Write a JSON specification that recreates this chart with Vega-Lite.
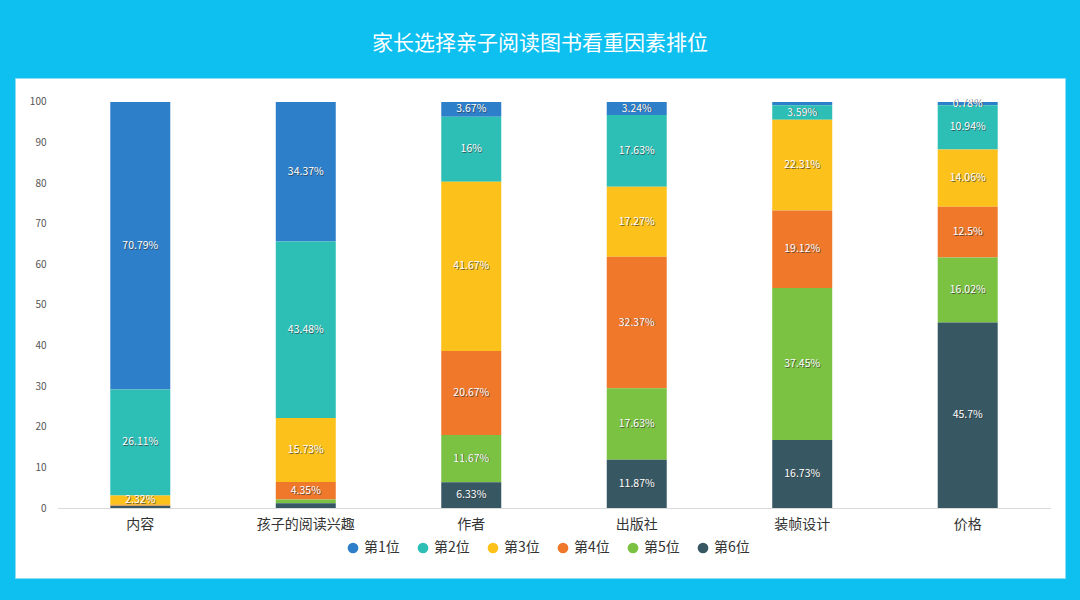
{
  "$schema": "https://vega.github.io/schema/vega-lite/v6.json",
  "width": 1050,
  "height": 500,
  "autosize": {"type": "none"},
  "padding": {"left": 15, "top": 78, "right": 15, "bottom": 22},
  "background": "#0EC0F0",
  "title": {
    "text": "家长选择亲子阅读图书看重因素排位",
    "color": "#ffffff",
    "fontSize": 21,
    "fontWeight": "normal",
    "font": "Noto Sans CJK SC",
    "anchor": "middle",
    "offset": 24
  },
  "config": {
    "view": {"fill": "#ffffff", "stroke": "#8fdcf5", "strokeWidth": 1},
    "font": "Noto Sans CJK SC"
  },
  "data": {
    "values": [
      {"factor": "内容", "rank": 1, "series": "第1位", "value": 70.79, "label": "70.79%"},
      {"factor": "内容", "rank": 2, "series": "第2位", "value": 26.11, "label": "26.11%"},
      {"factor": "内容", "rank": 3, "series": "第3位", "value": 2.32, "label": "2.32%"},
      {"factor": "内容", "rank": 4, "series": "第4位", "value": 0.2, "label": ""},
      {"factor": "内容", "rank": 5, "series": "第5位", "value": 0.1, "label": ""},
      {"factor": "内容", "rank": 6, "series": "第6位", "value": 0.48, "label": ""},
      {"factor": "孩子的阅读兴趣", "rank": 1, "series": "第1位", "value": 34.37, "label": "34.37%"},
      {"factor": "孩子的阅读兴趣", "rank": 2, "series": "第2位", "value": 43.48, "label": "43.48%"},
      {"factor": "孩子的阅读兴趣", "rank": 3, "series": "第3位", "value": 15.73, "label": "15.73%"},
      {"factor": "孩子的阅读兴趣", "rank": 4, "series": "第4位", "value": 4.35, "label": "4.35%"},
      {"factor": "孩子的阅读兴趣", "rank": 5, "series": "第5位", "value": 0.9, "label": ""},
      {"factor": "孩子的阅读兴趣", "rank": 6, "series": "第6位", "value": 1.17, "label": ""},
      {"factor": "作者", "rank": 1, "series": "第1位", "value": 3.67, "label": "3.67%"},
      {"factor": "作者", "rank": 2, "series": "第2位", "value": 16, "label": "16%"},
      {"factor": "作者", "rank": 3, "series": "第3位", "value": 41.67, "label": "41.67%"},
      {"factor": "作者", "rank": 4, "series": "第4位", "value": 20.67, "label": "20.67%"},
      {"factor": "作者", "rank": 5, "series": "第5位", "value": 11.67, "label": "11.67%"},
      {"factor": "作者", "rank": 6, "series": "第6位", "value": 6.33, "label": "6.33%"},
      {"factor": "出版社", "rank": 1, "series": "第1位", "value": 3.24, "label": "3.24%"},
      {"factor": "出版社", "rank": 2, "series": "第2位", "value": 17.63, "label": "17.63%"},
      {"factor": "出版社", "rank": 3, "series": "第3位", "value": 17.27, "label": "17.27%"},
      {"factor": "出版社", "rank": 4, "series": "第4位", "value": 32.37, "label": "32.37%"},
      {"factor": "出版社", "rank": 5, "series": "第5位", "value": 17.63, "label": "17.63%"},
      {"factor": "出版社", "rank": 6, "series": "第6位", "value": 11.87, "label": "11.87%"},
      {"factor": "装帧设计", "rank": 1, "series": "第1位", "value": 0.8, "label": ""},
      {"factor": "装帧设计", "rank": 2, "series": "第2位", "value": 3.59, "label": "3.59%"},
      {"factor": "装帧设计", "rank": 3, "series": "第3位", "value": 22.31, "label": "22.31%"},
      {"factor": "装帧设计", "rank": 4, "series": "第4位", "value": 19.12, "label": "19.12%"},
      {"factor": "装帧设计", "rank": 5, "series": "第5位", "value": 37.45, "label": "37.45%"},
      {"factor": "装帧设计", "rank": 6, "series": "第6位", "value": 16.73, "label": "16.73%"},
      {"factor": "价格", "rank": 1, "series": "第1位", "value": 0.78, "label": "0.78%"},
      {"factor": "价格", "rank": 2, "series": "第2位", "value": 10.94, "label": "10.94%"},
      {"factor": "价格", "rank": 3, "series": "第3位", "value": 14.06, "label": "14.06%"},
      {"factor": "价格", "rank": 4, "series": "第4位", "value": 12.5, "label": "12.5%"},
      {"factor": "价格", "rank": 5, "series": "第5位", "value": 16.02, "label": "16.02%"},
      {"factor": "价格", "rank": 6, "series": "第6位", "value": 45.7, "label": "45.7%"}
    ]
  },
  "encoding": {
    "x": {
      "field": "factor",
      "type": "nominal",
      "sort": ["内容", "孩子的阅读兴趣", "作者", "出版社", "装帧设计", "价格"],
      "scale": {"range": [42.5, 1035.5], "paddingInner": 0.6375, "paddingOuter": 0.319},
      "axis": {
        "title": null,
        "labelAngle": 0,
        "offset": -70,
        "ticks": false,
        "domainColor": "#d9d9d9",
        "labelPadding": 9,
        "labelFontSize": 14,
        "labelColor": "#333333",
        "labelFont": "Noto Sans CJK SC"
      }
    },
    "y": {
      "field": "value",
      "type": "quantitative",
      "stack": "zero",
      "scale": {"domain": [-17.24, 105.91], "nice": false, "zero": false},
      "axis": {
        "title": null,
        "values": [0, 10, 20, 30, 40, 50, 60, 70, 80, 90, 100],
        "grid": false,
        "domain": false,
        "ticks": false,
        "offset": -35,
        "labelPadding": 4,
        "labelFontSize": 10,
        "labelColor": "#555555"
      }
    },
    "order": {"field": "rank", "type": "quantitative", "sort": "descending"}
  },
  "layer": [
    {
      "mark": {"type": "bar"},
      "encoding": {
        "color": {
          "field": "series",
          "type": "nominal",
          "scale": {
            "domain": ["第1位", "第2位", "第3位", "第4位", "第5位", "第6位"],
            "range": ["#2E7FC9", "#2DBFB6", "#FDC11B", "#F0782B", "#7BC142", "#375863"]
          },
          "legend": {
            "title": null,
            "orient": "none",
            "legendX": 331,
            "legendY": 463,
            "direction": "horizontal",
            "symbolType": "circle",
            "symbolSize": 115,
            "labelFontSize": 14,
            "labelColor": "#333333",
            "columnPadding": 16,
            "symbolStrokeWidth": 0
          }
        }
      }
    },
    {
      "mark": {"type": "text", "color": "#333333", "fontSize": 10.5, "dx": 0.8, "dy": 0.8, "opacity": 0.7},
      "encoding": {
        "y": {"field": "value", "type": "quantitative", "stack": "zero", "bandPosition": 0.5},
        "text": {"field": "label"}
      }
    },
    {
      "mark": {"type": "text", "color": "#ffffff", "fontSize": 10.5},
      "encoding": {
        "y": {"field": "value", "type": "quantitative", "stack": "zero", "bandPosition": 0.5},
        "text": {"field": "label"}
      }
    }
  ]
}
